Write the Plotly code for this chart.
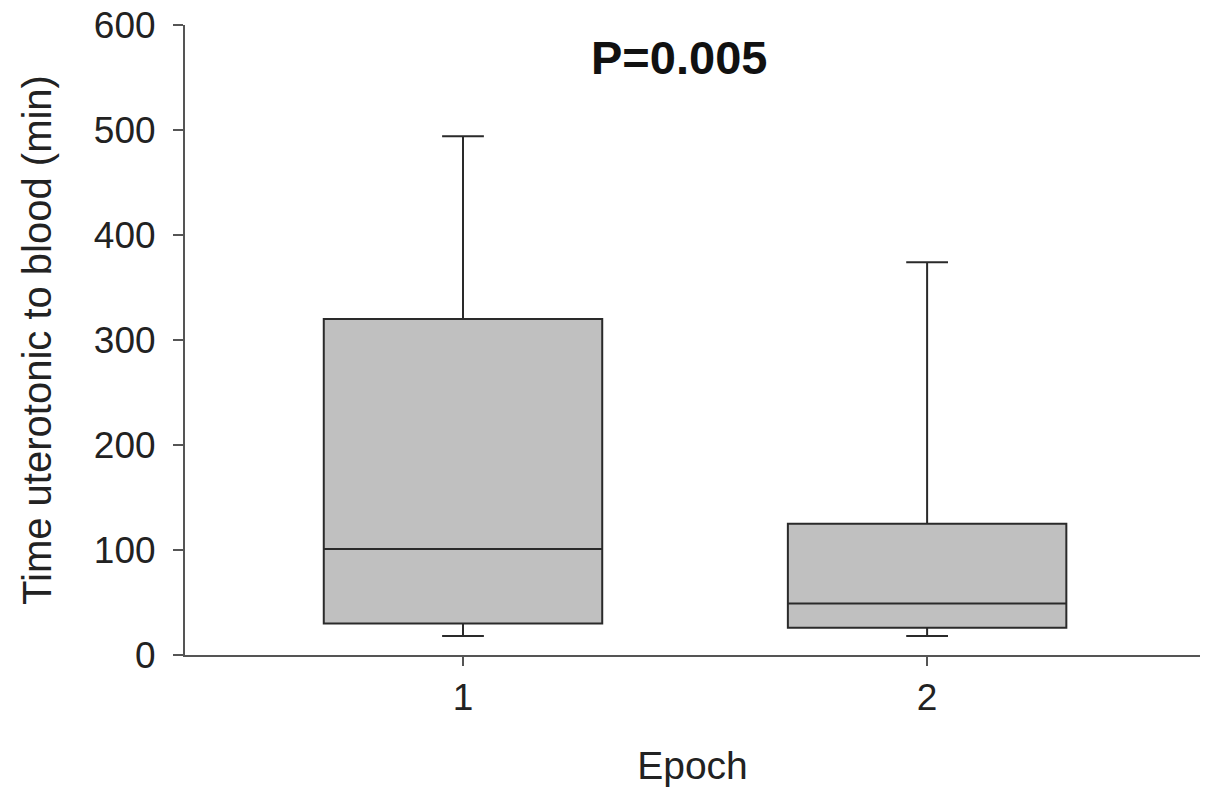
import plotly.graph_objects as go

# Box statistics per epoch (minutes)
epochs = [1, 2]
lower_whisker = [18, 18]
q1 = [30, 26]
median = [101, 49]
q3 = [320, 125]
upper_whisker = [494, 374]

y_ticks = [0, 100, 200, 300, 400, 500, 600]
p_label = "P=0.005"

FONT = "Liberation Sans, Arial, Helvetica, sans-serif"
TEXT = "#222222"
AXIS = "#555555"

fig = go.Figure()
fig.add_trace(go.Box(
    x=epochs,
    q1=q1,
    median=median,
    q3=q3,
    lowerfence=lower_whisker,
    upperfence=upper_whisker,
    width=0.6,
    whiskerwidth=0.15,
    fillcolor="#c0c0c0",
    line=dict(color="#2a2a2a", width=2),
    boxpoints=False,
    hoverinfo="skip",
    showlegend=False,
))

fig.add_annotation(
    x=1.466, y=569, xref="x", yref="y",
    text=f"<b>{p_label}</b>", showarrow=False,
    font=dict(family=FONT, size=47, color="#111111"),
)

fig.update_layout(
    width=1205, height=787,
    margin=dict(l=185, r=5, t=25, b=132),
    paper_bgcolor="white", plot_bgcolor="white",
    font=dict(family=FONT, color=TEXT),
)

fig.update_xaxes(
    range=[0.401, 2.588],
    tickvals=epochs, ticktext=[str(e) for e in epochs],
    ticks="outside", ticklen=9, tickwidth=2, tickcolor=AXIS,
    showline=True, linecolor=AXIS, linewidth=2,
    showgrid=False, zeroline=False,
    tickfont=dict(family=FONT, size=37, color=TEXT),
    title=dict(text="Epoch", font=dict(family=FONT, size=39, color=TEXT), standoff=34),
)
fig.update_yaxes(
    range=[0, 600],
    tickvals=y_ticks,
    ticks="outside", ticklen=10, tickwidth=2, tickcolor=AXIS,
    ticklabelstandoff=10,
    showline=True, linecolor=AXIS, linewidth=2,
    showgrid=False, zeroline=False,
    tickfont=dict(family=FONT, size=37, color=TEXT),
    title=dict(text="Time uterotonic to blood (min)",
               font=dict(family=FONT, size=40, color=TEXT), standoff=30),
)

fig.write_html("out.html")
